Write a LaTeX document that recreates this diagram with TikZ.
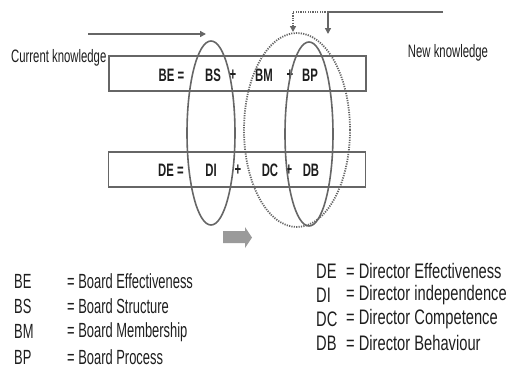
\documentclass[tikz,border=0pt]{standalone}
\usepackage{fontspec}
\setmainfont[FakeStretch=0.63]{Liberation Sans}
\newfontfamily\widefont[FakeStretch=0.7]{Liberation Sans}
\usetikzlibrary{arrows.meta}
\definecolor{linegray}{HTML}{666666}
\definecolor{textgray}{HTML}{1E1E1E}
\definecolor{fillgray}{HTML}{9A9A9A}
\tikzset{
    eqbox/.style={draw=linegray, line width=1.4pt, minimum width=257, minimum height=35, inner sep=0pt},
    term/.style={text=textgray, font=\fontsize{18}{20}\selectfont\bfseries, inner sep=0pt},
    lbl/.style={text=textgray, font=\fontsize{18}{20}\selectfont, inner sep=0pt},
    legend/.style={text=textgray, font=\fontsize{20.5}{22}\selectfont, inner sep=0pt, anchor=west},
    legendw/.style={text=textgray, font=\widefont\fontsize{21}{23}\selectfont, inner sep=0pt, anchor=west},
    flow/.style={draw=linegray, line width=1.6pt, -{Triangle[length=6pt,width=6pt]}},
    ring/.style={draw=linegray, line width=1.6pt},
    dots/.style={dash pattern=on 1.2pt off 1.2pt},
}
\begin{document}
\begin{tikzpicture}[x=1pt, y=-1pt]
    \useasboundingbox (0,0) rectangle (507,376);

    % --- Equation boxes ---
    \node[eqbox] (boxBE) at (237.5,73.5) {};
    \node[eqbox] (boxDE) at (237,169.5) {};

    % Terms of the board equation
    \node[term] (tBE) at (171.5,75) {BE =};
    \node[term] (tBS) at (213,75) {BS};
    \node[term] (pBa) at (233,75) {+};
    \node[term] (tBM) at (264,75) {BM};
    \node[term] (pBb) at (290,75) {+};
    \node[term] (tBP) at (310,75) {BP};

    % Terms of the director equation
    \node[term] (tDE) at (171,170) {DE =};
    \node[term] (tDI) at (211,170) {DI};
    \node[term] (pDa) at (238,170) {+};
    \node[term] (tDC) at (270,170) {DC};
    \node[term] (pDb) at (289,170) {+};
    \node[term] (tDB) at (311,170) {DB};

    % --- Rings around the linked terms ---
    \draw[ring] (211,133) ellipse [x radius=24, y radius=92]; % BS / DI
    \draw[ring] (309,134) ellipse [x radius=24, y radius=92]; % BP / DB
    \draw[ring, dots, line width=1.8pt] (297,130) ellipse [x radius=53, y radius=97]; % BM+BP / DC+DB

    % --- Knowledge labels and arrows ---
    \node[lbl, anchor=west] (curk) at (11,58) {Current knowledge};
    \node[lbl] (newk) at (448,53) {New knowledge};

    \coordinate (curA) at (88,34);
    \coordinate (curB) at (206,34);
    \draw[flow] (curA) -- (curB);

    \coordinate (newA) at (443,12);
    \coordinate (newB) at (328,34);
    \draw[flow, line width=1.4pt] (newA) -| (newB);

    \coordinate (dotA) at (328,12);
    \coordinate (dotB) at (293,32);
    \draw[flow, dots, line width=1.8pt] (dotA) -| (dotB);

    % Block arrow under the rings
    \fill[fillgray] (223,231) -- (245,231) -- (245,227) -- (252,237.5)
        -- (245,248) -- (245,243) -- (223,243) -- cycle;

    % --- Legend ---
    \foreach \ab/\txt [count=\i] in {BE/Board Effectiveness, BS/Board Structure, BM/Board Membership, BP/Board Process} {
        \node[legend] (lb\i) at (14,{256+25.3*\i}) {\ab};
        \node[legend] (lt\i) at (67,{256+25.3*\i}) {= \txt};
    }
    \foreach \ab/\txt [count=\i] in {DE/Director Effectiveness, DI/Director independence, DC/Director Competence, DB/Director Behaviour} {
        \node[legendw] (rb\i) at (316,{247+24*\i}) {\ab};
        \node[legendw] (rt\i) at (346,{247+24*\i}) {= \txt};
    }
\end{tikzpicture}
\end{document}
